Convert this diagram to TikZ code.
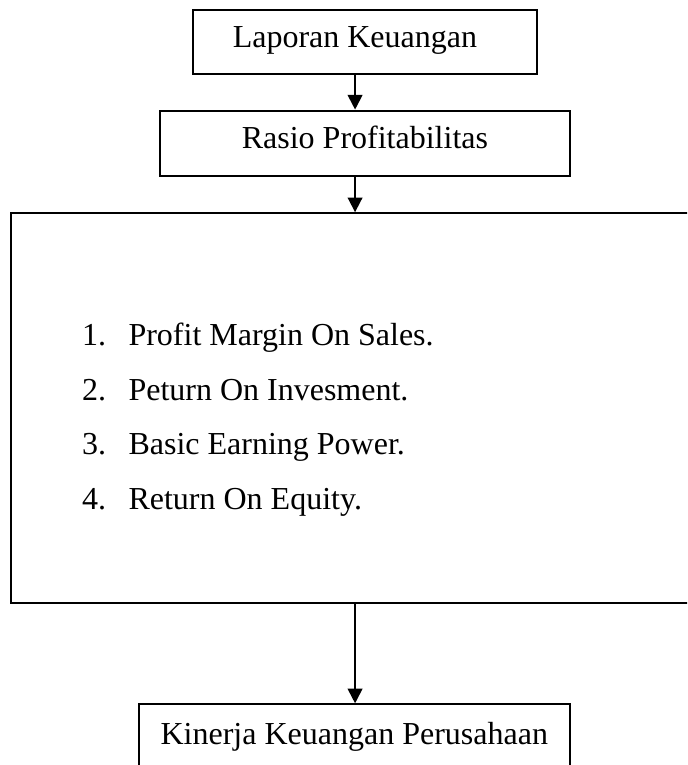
\documentclass[tikz,border=0pt]{standalone}
\usepackage{fontspec}
\setmainfont{Liberation Serif}
\usetikzlibrary{arrows.meta}
\tikzset{
  kotak/.style={draw, line width=0.75pt, inner sep=0pt, text height=0.68em, text depth=0.3em},
  panah/.style={-{Triangle[width=5.5pt,length=5.5pt]}, line width=0.7pt}
}
\begin{document}
\begin{tikzpicture}[font=\fontsize{12}{14}\selectfont]
  \clip (0,0) rectangle (9.055,-10.083);
  \coordinate (sumbu) at (4.68,0);
  \node[kotak, minimum width=4.53cm, minimum height=0.84cm] (lapkeu) at (4.81,-0.553) {Laporan Keuangan\hspace*{7.5pt}};
  \node[kotak, minimum width=5.40cm, minimum height=0.857cm] (rasio) at (4.81,-1.886) {Rasio Profitabilitas};
  \node[kotak, minimum width=9.34cm, minimum height=5.14cm] (daftar) at (4.82,-5.38) {};
  \node[kotak, minimum width=5.68cm, minimum height=0.92cm, anchor=north] (kinerja) at (4.67,-9.27) {Kinerja Keuangan Perusahaan};
  % isi rasio
  \foreach \i/\teks in {1/Profit Margin On Sales., 2/Peturn On Invesment., 3/Basic Earning Power., 4/Return On Equity.}{
    \node[anchor=base west, inner sep=0pt] (no\i) at (1.077,{-3.843-0.717*\i}) {\i.};
    \node[anchor=base west, inner sep=0pt] (item\i) at (1.687,{-3.843-0.717*\i}) {\teks};
  }
  \draw[panah] (lapkeu.south -| sumbu) -- (rasio.north -| sumbu);
  \draw[panah] (rasio.south -| sumbu) -- (daftar.north -| sumbu);
  \draw[panah] (daftar.south -| sumbu) -- (kinerja.north -| sumbu);
\end{tikzpicture}
\end{document}
